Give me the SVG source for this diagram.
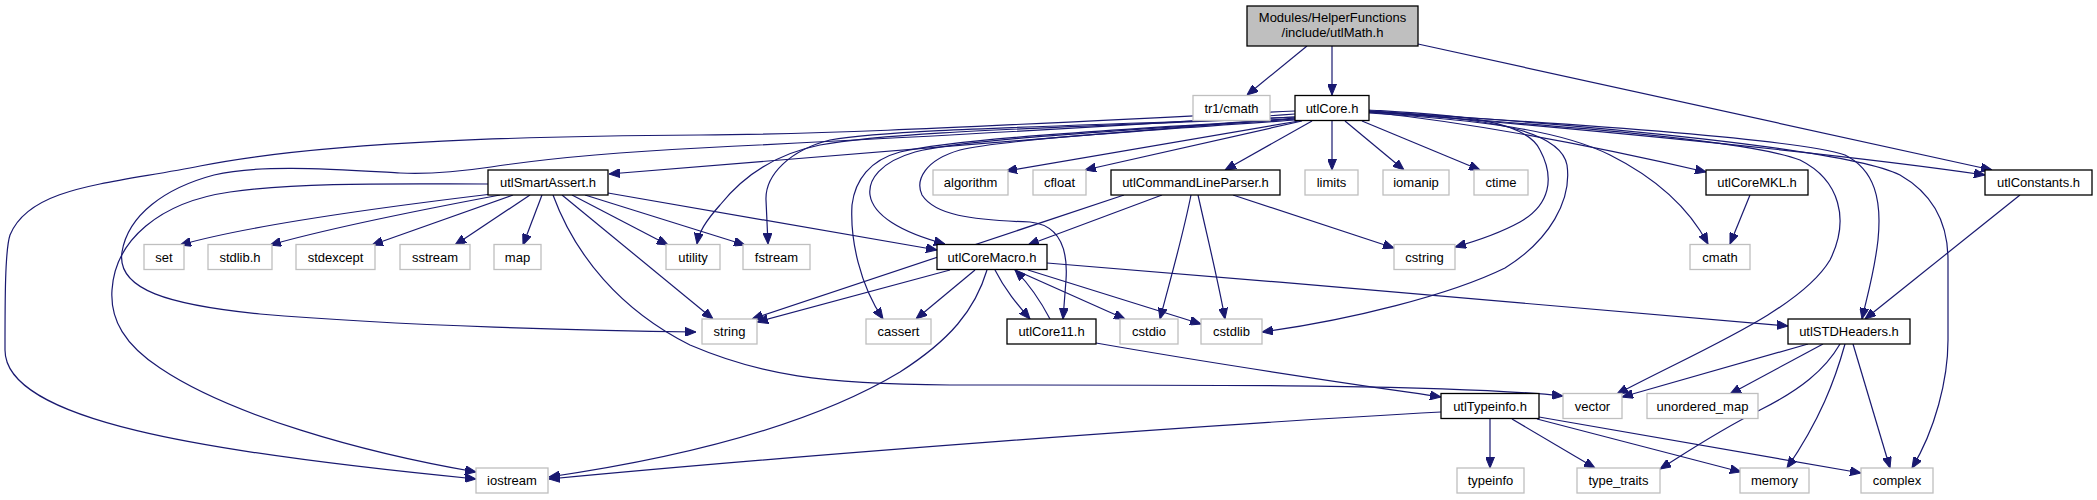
<svg xmlns="http://www.w3.org/2000/svg" width="2097" height="500" viewBox="0 0 2097 500">
<style>
.n rect{fill:#fff;stroke-width:1.3}
.g rect{stroke:#bfbfbf}
.b rect{stroke:#000}
.r rect{fill:#bfbfbf;stroke:#000}
text{font-family:"Liberation Sans",Arial,sans-serif;font-size:13px;text-anchor:middle;fill:#000}
.e path{fill:none;stroke:#191970;stroke-width:1.2;marker-end:url(#ah)}
</style>
<defs>
<marker id="ah" viewBox="0 0 11 9" refX="11" refY="4.5" markerWidth="11" markerHeight="9" markerUnits="userSpaceOnUse" orient="auto">
<path d="M0,0 L11,4.5 L0,9 z" fill="#191970" stroke="#191970" stroke-width="1"/>
</marker>
</defs>
<rect width="2097" height="500" fill="#fff"/>
<g class="e" id="edges">
<path id="e_root_tr1" d="M1307,46 L1247,95"/>
<path id="e_root_core" d="M1332,46 L1332,95"/>
<path id="e_root_const" d="M1418,44 L1992,170"/>
<path id="e_core_iostream" d="M1295,111 C1000,125 850,134 700,135 C550,136 330,140 200,166 C110,184 30,186 10,235 C5,250 5,300 5,350 C5,420 200,452 476,479"/>
<path id="e_core_string" d="M1295,114 C1100,128 800,143 700,148 C600,153 530,161 491,167 C450,173 420,174 400,173 C330,169 260,164 214,175 C165,188 128,215 122,252 C116,290 170,305 260,314 C400,326 600,331 696,332"/>
<path id="e_core_smart" d="M1295,118 L609,174"/>
<path id="e_core_utility" d="M1295,117 C1100,127 900,130 820,145 C770,155 740,180 720,205 C705,222 699,232 697,244"/>
<path id="e_core_fstream" d="M1295,117 C1100,126 900,128 830,140 C790,150 765,175 766,200 L768,244"/>
<path id="e_core_cassert" d="M1295,119 C1100,130 950,140 900,152 C870,160 855,180 852,205 C850,240 860,285 883,319"/>
<path id="e_core_macro" d="M1295,119 C1100,132 960,140 915,152 C880,162 868,180 870,195 C873,215 900,232 945,244"/>
<path id="e_core_core11" d="M1295,120 C1150,130 1000,140 960,150 C925,160 915,180 922,195 C935,215 970,220 1030,222 C1060,225 1068,250 1066,280 L1063,319"/>
<path id="e_core_algorithm" d="M1299,121 L1006,171"/>
<path id="e_core_cfloat" d="M1302,121 L1085,170"/>
<path id="e_core_clp" d="M1312,121 L1225,170"/>
<path id="e_core_limits" d="M1332,121 L1332,170"/>
<path id="e_core_iomanip" d="M1345,121 L1404,170"/>
<path id="e_core_ctime" d="M1362,121 L1480,170"/>
<path id="e_core_cstring" d="M1369,110 C1450,115 1525,118 1540,150 C1555,178 1550,205 1520,222 C1500,233 1480,240 1455,247"/>
<path id="e_core_cstdlib" d="M1369,111 C1480,118 1560,128 1567,165 C1572,200 1550,240 1505,268 C1450,295 1350,320 1262,332"/>
<path id="e_core_cmath" d="M1369,113 C1480,120 1560,130 1610,155 C1660,180 1690,210 1708,244"/>
<path id="e_core_mkl" d="M1369,112 C1500,126 1620,152 1706,172"/>
<path id="e_core_vector" d="M1369,112 C1550,125 1750,140 1800,160 C1840,180 1850,220 1830,260 C1800,310 1700,350 1617,394"/>
<path id="e_core_stdh" d="M1369,112 C1600,125 1800,140 1845,155 C1875,170 1882,200 1878,240 C1874,275 1866,300 1862,319"/>
<path id="e_core_complex" d="M1369,111 C1600,125 1850,150 1900,175 C1935,195 1948,225 1948,260 L1948,340 C1948,380 1935,430 1912,468"/>
<path id="e_core_const" d="M1369,111 C1650,135 1850,155 1985,175"/>
<path id="e_smart_iostream" d="M488,184 C400,184 300,182 230,192 C160,202 115,240 112,290 C110,320 125,345 160,368 C230,415 360,452 476,472"/>
<path id="e_smart_set" d="M492,194 C400,205 250,225 180,245"/>
<path id="e_smart_stdlib" d="M500,195 C420,210 330,228 270,245"/>
<path id="e_smart_stdexcept" d="M513,195 L372,245"/>
<path id="e_smart_sstream" d="M530,195 L455,245"/>
<path id="e_smart_map" d="M542,195 L523,245"/>
<path id="e_smart_vector" d="M553,195 C575,255 620,310 690,345 C760,375 820,384 950,385 C1200,385 1450,384 1563,396"/>
<path id="e_smart_string" d="M562,195 L713,319"/>
<path id="e_smart_utility" d="M572,195 L668,245"/>
<path id="e_smart_fstream" d="M585,195 L745,245"/>
<path id="e_smart_macro" d="M608,193 L937,250"/>
<path id="e_clp_string" d="M1124,195 L752,319"/>
<path id="e_clp_macro" d="M1162,195 L1028,245"/>
<path id="e_clp_cstdio" d="M1191,195 C1182,240 1170,280 1160,319"/>
<path id="e_clp_cstdlib" d="M1198,195 C1208,240 1218,280 1225,319"/>
<path id="e_clp_cstring" d="M1233,195 L1394,248"/>
<path id="e_macro_string" d="M950,270 L757,322"/>
<path id="e_macro_cassert" d="M975,270 L916,319"/>
<path id="e_macro_iostream" d="M987,270 C975,310 950,340 900,372 C820,420 700,455 549,477"/>
<path id="e_macro_core11" d="M995,270 C1005,290 1018,305 1030,319"/>
<path id="e_macro_cstdio" d="M1015,270 L1125,319"/>
<path id="e_macro_cstdlib" d="M1028,270 L1201,324"/>
<path id="e_macro_stdh" d="M1047,263 C1300,284 1600,308 1788,326"/>
<path id="e_core11_macro" d="M1050,319 C1040,300 1030,285 1015,270"/>
<path id="e_core11_typeinfo" d="M1096,343 C1250,370 1380,388 1441,397"/>
<path id="e_stdh_vector" d="M1808,344 L1622,397"/>
<path id="e_stdh_umap" d="M1823,344 L1730,394"/>
<path id="e_stdh_typetraits" d="M1840,344 C1825,370 1800,390 1760,410 C1720,430 1690,450 1660,469"/>
<path id="e_stdh_memory" d="M1845,344 C1835,380 1820,420 1787,468"/>
<path id="e_stdh_complex" d="M1853,344 L1890,468"/>
<path id="e_const_stdh" d="M2020,195 L1865,319"/>
<path id="e_mkl_cmath" d="M1750,195 L1730,244"/>
<path id="e_ti_iostream" d="M1441,412 C1200,425 800,455 549,479"/>
<path id="e_ti_typeinfo" d="M1490,419 L1490,468"/>
<path id="e_ti_typetraits" d="M1512,419 L1595,468"/>
<path id="e_ti_memory" d="M1537,419 L1741,472"/>
<path id="e_ti_complex" d="M1539,417 L1861,473"/>
</g>
<g id="n_root" class="n r"><rect x="1247" y="6" width="171" height="40"/><text x="1332.5" y="22">Modules/HelperFunctions</text><text x="1332.5" y="37">/include/utlMath.h</text></g>
<g id="n_tr1cmath" class="n g"><rect x="1193" y="95.5" width="77" height="25"/><text x="1231.5" y="112.5">tr1/cmath</text></g>
<g id="n_utlCore" class="n b"><rect x="1295" y="95.5" width="74" height="25"/><text x="1332" y="112.5">utlCore.h</text></g>
<g id="n_utlSmartAssert" class="n b"><rect x="488" y="170" width="120" height="25"/><text x="548" y="187">utlSmartAssert.h</text></g>
<g id="n_algorithm" class="n g"><rect x="933" y="170" width="75" height="25"/><text x="970.5" y="187">algorithm</text></g>
<g id="n_cfloat" class="n g"><rect x="1033" y="170" width="53" height="25"/><text x="1059.5" y="187">cfloat</text></g>
<g id="n_utlCommandLineParser" class="n b"><rect x="1111" y="170" width="169" height="25"/><text x="1195.5" y="187">utlCommandLineParser.h</text></g>
<g id="n_limits" class="n g"><rect x="1305" y="170" width="53" height="25"/><text x="1331.5" y="187">limits</text></g>
<g id="n_iomanip" class="n g"><rect x="1383" y="170" width="66" height="25"/><text x="1416" y="187">iomanip</text></g>
<g id="n_ctime" class="n g"><rect x="1474" y="170" width="54" height="25"/><text x="1501" y="187">ctime</text></g>
<g id="n_utlCoreMKL" class="n b"><rect x="1706" y="170" width="102" height="25"/><text x="1757" y="187">utlCoreMKL.h</text></g>
<g id="n_utlConstants" class="n b"><rect x="1985" y="170" width="107" height="25"/><text x="2038.5" y="187">utlConstants.h</text></g>
<g id="n_set" class="n g"><rect x="144" y="244.5" width="40" height="25"/><text x="164" y="261.5">set</text></g>
<g id="n_stdlibh" class="n g"><rect x="208" y="244.5" width="64" height="25"/><text x="240" y="261.5">stdlib.h</text></g>
<g id="n_stdexcept" class="n g"><rect x="296" y="244.5" width="79" height="25"/><text x="335.5" y="261.5">stdexcept</text></g>
<g id="n_sstream" class="n g"><rect x="400" y="244.5" width="70" height="25"/><text x="435" y="261.5">sstream</text></g>
<g id="n_map" class="n g"><rect x="494" y="244.5" width="47" height="25"/><text x="517.5" y="261.5">map</text></g>
<g id="n_utility" class="n g"><rect x="666" y="244.5" width="54" height="25"/><text x="693" y="261.5">utility</text></g>
<g id="n_fstream" class="n g"><rect x="743" y="244.5" width="67" height="25"/><text x="776.5" y="261.5">fstream</text></g>
<g id="n_utlCoreMacro" class="n b"><rect x="937" y="244.5" width="110" height="25"/><text x="992" y="261.5">utlCoreMacro.h</text></g>
<g id="n_cstring" class="n g"><rect x="1394" y="244.5" width="61" height="25"/><text x="1424.5" y="261.5">cstring</text></g>
<g id="n_cmath" class="n g"><rect x="1690" y="244.5" width="60" height="25"/><text x="1720" y="261.5">cmath</text></g>
<g id="n_string" class="n g"><rect x="702" y="319" width="55" height="25"/><text x="729.5" y="336">string</text></g>
<g id="n_cassert" class="n g"><rect x="866" y="319" width="65" height="25"/><text x="898.5" y="336">cassert</text></g>
<g id="n_utlCore11" class="n b"><rect x="1007" y="319" width="89" height="25"/><text x="1051.5" y="336">utlCore11.h</text></g>
<g id="n_cstdio" class="n g"><rect x="1120" y="319" width="58" height="25"/><text x="1149" y="336">cstdio</text></g>
<g id="n_cstdlib" class="n g"><rect x="1201" y="319" width="61" height="25"/><text x="1231.5" y="336">cstdlib</text></g>
<g id="n_utlSTDHeaders" class="n b"><rect x="1788" y="319" width="122" height="25"/><text x="1849" y="336">utlSTDHeaders.h</text></g>
<g id="n_utlTypeinfo" class="n b"><rect x="1441" y="393.5" width="98" height="25"/><text x="1490" y="410.5">utlTypeinfo.h</text></g>
<g id="n_vector" class="n g"><rect x="1563" y="393.5" width="59" height="25"/><text x="1592.5" y="410.5">vector</text></g>
<g id="n_unordered_map" class="n g"><rect x="1647" y="393.5" width="111" height="25"/><text x="1702.5" y="410.5">unordered_map</text></g>
<g id="n_iostream" class="n g"><rect x="476" y="468" width="72" height="25"/><text x="512" y="485">iostream</text></g>
<g id="n_typeinfo" class="n g"><rect x="1457" y="468" width="67" height="25"/><text x="1490.5" y="485">typeinfo</text></g>
<g id="n_type_traits" class="n g"><rect x="1577" y="468" width="83" height="25"/><text x="1618.5" y="485">type_traits</text></g>
<g id="n_memory" class="n g"><rect x="1740" y="468" width="69" height="25"/><text x="1774.5" y="485">memory</text></g>
<g id="n_complex" class="n g"><rect x="1861" y="468" width="72" height="25"/><text x="1897" y="485">complex</text></g>
</svg>
